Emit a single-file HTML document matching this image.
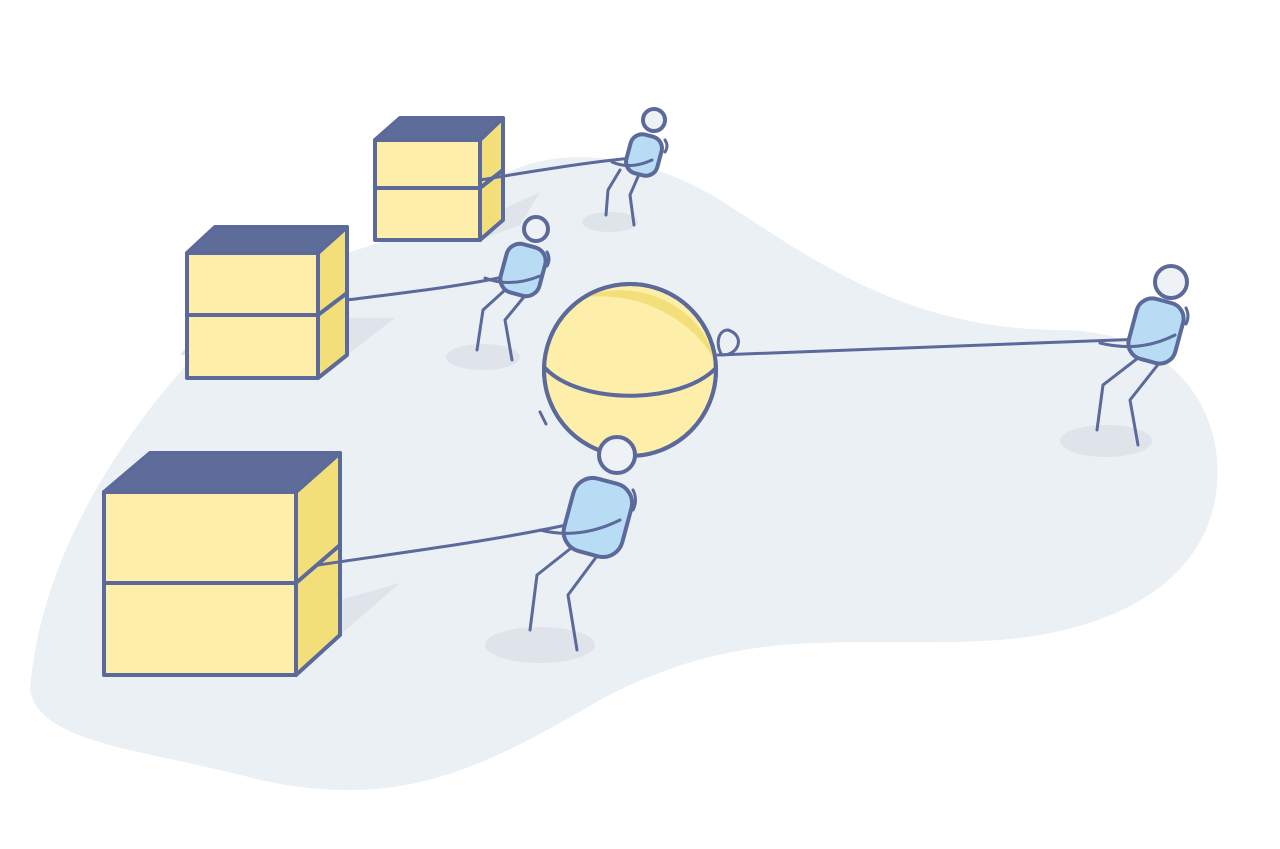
<!DOCTYPE html>
<html><head><meta charset="utf-8"><style>html,body{margin:0;padding:0;background:#fff}svg{display:block}</style></head>
<body>
<svg width="1280" height="849" viewBox="0 0 1280 849" xmlns="http://www.w3.org/2000/svg">
<path d="M30,690 C40,560 120,420 250,300 C330,240 420,250 480,190 C540,140 640,150 720,200 C800,250 900,330 1060,330 C1180,330 1230,420 1215,500 C1200,580 1120,630 1000,640 C850,650 750,620 600,700 C480,770 400,810 260,780 C150,750 40,745 30,690 Z" fill="#ebf0f4"/>
<g fill="#dfe4ea">
<polygon points="480,220 540,192 520,225 480,240"/>
<polygon points="180,355 210,318 395,318 347,355"/>
<polygon points="296,635 340,600 400,583 340,635"/>
<ellipse cx="610" cy="222" rx="28" ry="10"/>
<ellipse cx="483" cy="357" rx="37" ry="13"/>
<ellipse cx="540" cy="645" rx="55" ry="18"/>
<ellipse cx="1106" cy="441" rx="46" ry="16"/>
</g>
<g stroke="#5b6a9b" stroke-width="4" stroke-linejoin="round" stroke-linecap="round">
<polygon points="375,140 400,118 503,118 480,140" fill="#5e6c99"/>
<polygon points="480,140 503,118 503,220 480,240" fill="#f3df7a"/>
<rect x="375" y="140" width="105" height="100" fill="#fdeeaa"/>
<line x1="375" y1="188" x2="480" y2="188"/><line x1="480" y1="188" x2="503" y2="170"/>
<polygon points="187,253 215,227 347,227 318,253" fill="#5e6c99"/>
<polygon points="318,253 347,227 347,355 318,378" fill="#f3df7a"/>
<rect x="187" y="253" width="131" height="125" fill="#fdeeaa"/>
<line x1="187" y1="315" x2="318" y2="315"/><line x1="318" y1="315" x2="347" y2="293"/>
<polygon points="104,492 150,453 340,453 296,492" fill="#5e6c99"/>
<polygon points="296,492 340,453 340,635 296,675" fill="#f3df7a"/>
<rect x="104" y="492" width="192" height="183" fill="#fdeeaa"/>
<line x1="104" y1="583" x2="296" y2="583"/><line x1="296" y1="583" x2="340" y2="545"/>
<circle cx="630" cy="370" r="86" fill="#fdeeaa"/>
<path d="M585,297 C640,275 705,310 714,360 C700,330 650,290 585,297 Z" fill="#f3df7a" stroke="none"/>
<circle cx="630" cy="370" r="86" fill="none"/>
<path d="M545,368 C580,405 680,405 716,368" fill="none"/>
<path d="M728,330 C745,335 740,355 722,355 C715,345 718,330 728,330 Z" fill="none" stroke-width="3"/>
<path d="M540,412 l6,12" fill="none" stroke-width="3"/>
<g fill="none" stroke-width="3">
<path d="M480,180 C540,170 590,162 632,158"/>
<path d="M347,300 C410,292 470,285 512,275"/>
<path d="M318,565 C420,550 500,540 590,520"/>
<path d="M718,355 C850,350 1000,345 1170,338"/>
</g>
<g fill="none" stroke-width="3">
<path d="M620,170 L608,190 L606,215 M640,172 L630,195 L634,225"/>
<path d="M505,290 L483,310 L477,350 M528,292 L505,320 L512,360"/>
<path d="M575,545 L537,575 L530,630 M600,552 L568,595 L577,650"/>
<path d="M1138,358 L1103,385 L1097,430 M1160,362 L1130,400 L1138,445"/>
</g>
<g fill="#b9dcf5">
<rect x="628" y="135" width="32" height="40" rx="12" transform="rotate(15 644 155)"/>
<rect x="503" y="245" width="40" height="50" rx="14" transform="rotate(15 523 270)"/>
<rect x="568" y="480" width="60" height="75" rx="20" transform="rotate(15 598 517)"/>
<rect x="1132" y="300" width="48" height="62" rx="16" transform="rotate(15 1156 331)"/>
</g>
<g fill="#eef2f6">
<circle cx="654" cy="120" r="11"/>
<circle cx="536" cy="229" r="12"/>
<circle cx="617" cy="455" r="18"/>
<circle cx="1171" cy="282" r="16"/>
</g>
<g fill="none" stroke-width="3">
<path d="M665,140 q4,6 0,12"/><path d="M547,252 q4,7 0,14"/>
<path d="M633,490 q5,10 0,20"/><path d="M1186,308 q4,8 0,16"/>
<path d="M612,162 q18,8 40,-2"/><path d="M485,278 q25,10 55,-2"/>
<path d="M540,530 q40,10 80,-10"/><path d="M1100,343 q40,10 75,-8"/>
</g>
</g>
</svg>
</body></html>
